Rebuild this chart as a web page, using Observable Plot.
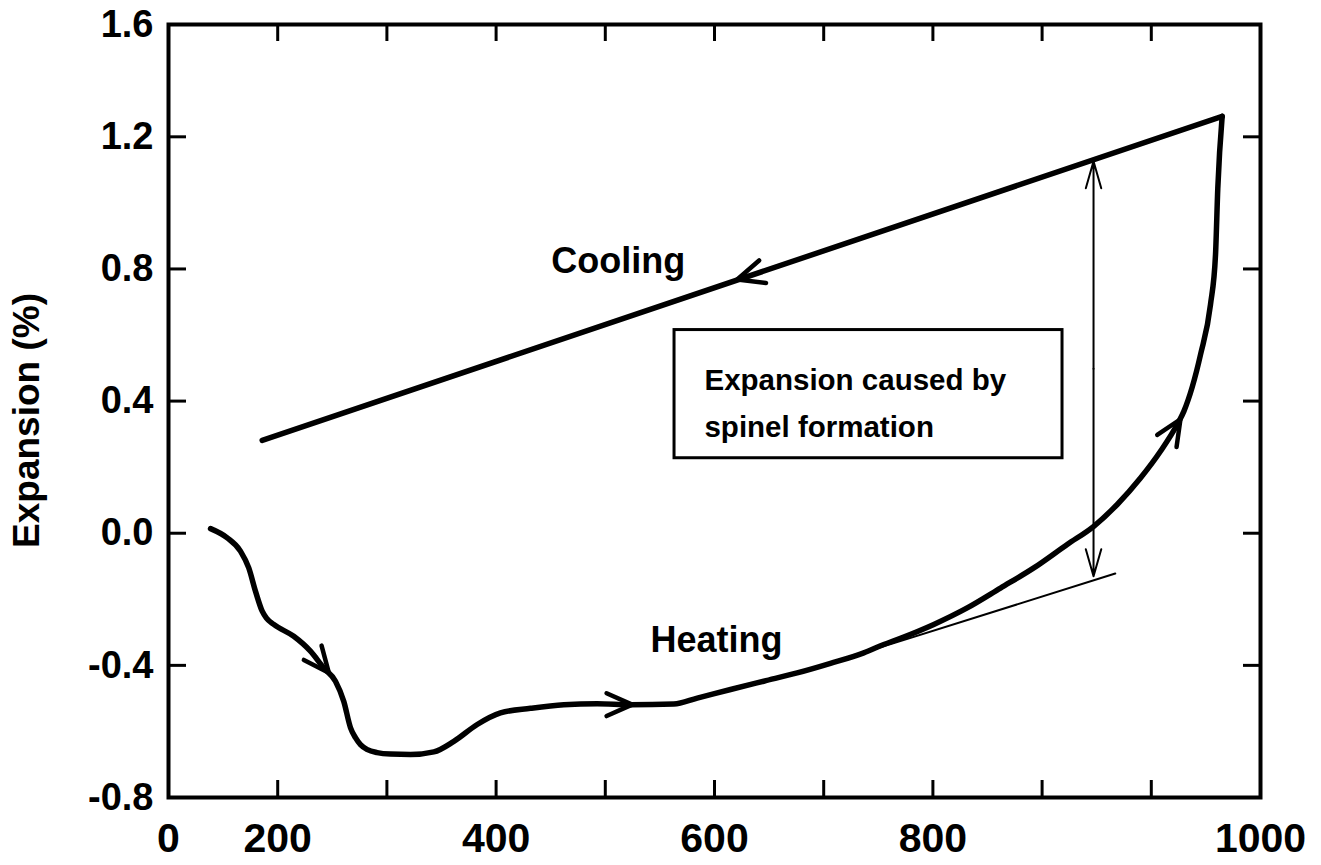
<!DOCTYPE html>
<html>
<head>
<meta charset="utf-8">
<script src="https://cdn.jsdelivr.net/npm/d3@7"></script>
<script src="https://cdn.jsdelivr.net/npm/@observablehq/plot@0.6"></script>
<style>
  html, body { margin: 0; padding: 0; background: #ffffff; }
  #chart svg { display: block; }
</style>
</head>
<body>
<div id="chart"></div>
<script>
// ---- Data ----
// Heating branch: temperature vs expansion (%)
const heatingTemp = [138.5, 153.8, 165.9, 173.5, 179.7, 185.8, 189.7, 196.4, 214.7, 230.0, 242.2,
  252.9, 260.5, 266.7, 271.2, 275.8, 282.2, 291.1, 303.3, 321.6, 343.0, 361.3, 382.7, 404.0,
  431.5, 462.0, 492.6, 523.1, 562.7, 584.2, 614.7, 645.1, 675.7, 706.2,
  736.7, 755.0, 770.3, 800.8, 831.4, 861.9, 892.4, 923.0, 947.3, 968.8,
  990.1, 1008.4, 1023.7, 1029.8, 1045.1, 1054.2, 1058.8, 1060.9, 1064.9];
const heatingExp = [0.014, -0.014, -0.054, -0.105, -0.176, -0.236, -0.257, -0.276, -0.312, -0.357, -0.408,
  -0.448, -0.509, -0.589, -0.619, -0.640, -0.655, -0.664, -0.6686, -0.670, -0.662, -0.630, -0.579, -0.544,
  -0.530, -0.519, -0.516, -0.519, -0.517, -0.499, -0.473, -0.448, -0.423, -0.394,
  -0.362, -0.337, -0.318, -0.276, -0.226, -0.166, -0.105, -0.034, 0.021, 0.087,
  0.167, 0.248, 0.329, 0.369, 0.541, 0.692, 0.843, 1.045, 1.262];

// Cooling branch (straight line)
const coolingTemp = [1064.9, 185.8];
const coolingExp = [1.262, 0.281];

// Tangent (extrapolated thermal expansion) line
const tangentTemp = [738, 967];
const tangentExp = [-0.360, -0.122];

// Direction arrows on the curves: position and heading (degrees clockwise from up)
const heatArrowTemp = [246.8, 524.6, 1026.7];
const heatArrowExp = [-0.422, -0.519, 0.345];
const heatArrowHeading = [141, 90, 32];
const coolArrowTemp = [620.8];
const coolArrowExp = [0.768];
const coolArrowHeading = [253];

// Double-headed arrow: expansion caused by spinel formation
const spanTemp = 947.1;
const spanTop = 1.126;
const spanBottom = -0.130;

// Annotation box extent and texts
const boxTemp = [563.4, 918.7];
const boxExp = [0.227, 0.615];
const boxText = "Expansion caused by\nspinel formation";
const boxTextAt = [590.8, 0.5377];
const branchLabels = ["Cooling", "Heating"];
const branchLabelTemp = [450.5, 541.4];
const branchLabelExp = [0.823, -0.3246];

// Axes
const xDomain = [100, 1100];
const yDomain = [-0.8, 1.54];
const xLabelValues = [100, 200, 400, 600, 800, 1100];
const xLabelTexts = ["0", "200", "400", "600", "800", "1000"];
const xMinorTicks = [200, 300, 400, 500, 600, 700, 800, 900, 1000];
const yLabelValues = [-0.8, -0.4, 0, 0.4, 0.8, 1.2, 1.54];
const yLabelTexts = ["-0.8", "-0.4", "0.0", "0.4", "0.8", "1.2", "1.6"];
const yMinorTicks = [-0.4, 0, 0.4, 0.8, 1.2];
const yTitle = "Expansion (%)";

// ---- Build tables ----
const heating = heatingTemp.map((t, i) => ({t, e: heatingExp[i]}));
const cooling = coolingTemp.map((t, i) => ({t, e: coolingExp[i]}));
const tangent = tangentTemp.map((t, i) => ({t, e: tangentExp[i]}));
const heatArrows = heatArrowTemp.map((t, i) => ({t, e: heatArrowExp[i], r: heatArrowHeading[i]}));
const coolArrows = coolArrowTemp.map((t, i) => ({t, e: coolArrowExp[i], r: coolArrowHeading[i]}));
const mid = (spanTop + spanBottom) / 2;
const spans = [{t: spanTemp, e1: mid, e2: spanTop}, {t: spanTemp, e1: mid, e2: spanBottom}];
const labels = branchLabels.map((s, i) => ({s, t: branchLabelTemp[i], e: branchLabelExp[i]}));
const xLabelMap = new Map(xLabelValues.map((v, i) => [v, xLabelTexts[i]]));
const yLabelMap = new Map(yLabelValues.map((v, i) => [v, yLabelTexts[i]]));

const FONT = "'Liberation Sans', Arial, Helvetica, sans-serif";

// chevron arrow head (open "V"), tip at the anchor point
function chevron(halfDeg) {
  const a = halfDeg * Math.PI / 180;
  return {
    draw(context, l) {
      const sx = l * Math.sin(a), sy = l * Math.cos(a);
      context.moveTo(-sx, sy);
      context.lineTo(0, 0);
      context.lineTo(sx, sy);
    }
  };
}

const W = 1321, H = 865;
const mL = 168, mR = 61, mT = 24, mB = 68;
const frameW = W - mL - mR, frameH = H - mT - mB;
const tickLen = 17;

const chart = Plot.plot({
  width: W,
  height: H,
  marginLeft: mL,
  marginRight: mR,
  marginTop: mT,
  marginBottom: mB,
  style: {fontFamily: FONT, background: "#ffffff", color: "#000"},
  x: {domain: xDomain},
  y: {domain: yDomain},
  marks: [
    // inward ticks on all four sides
    Plot.tickX(xMinorTicks, {x: d => d, insetTop: frameH - tickLen, strokeWidth: 3, stroke: "#000"}),
    Plot.tickX(xMinorTicks, {x: d => d, insetBottom: frameH - tickLen, strokeWidth: 3, stroke: "#000"}),
    Plot.tickY(yMinorTicks, {y: d => d, insetRight: frameW - tickLen - 1, strokeWidth: 3, stroke: "#000"}),
    Plot.tickY(yMinorTicks, {y: d => d, insetLeft: frameW - tickLen, strokeWidth: 3, stroke: "#000"}),
    Plot.frame({stroke: "#000", strokeWidth: 4}),

    // tangent line & span arrow (thin)
    Plot.line(tangent, {x: "t", y: "e", stroke: "#000", strokeWidth: 2}),
    Plot.arrow(spans, {x1: "t", y1: "e1", x2: "t", y2: "e2", stroke: "#000", strokeWidth: 2,
      headAngle: 32, headLength: 21}),

    // curves
    Plot.line(heating, {x: "t", y: "e", curve: "monotone-x", stroke: "#000", strokeWidth: 5.5,
      strokeLinejoin: "round", strokeLinecap: "round"}),
    Plot.line(cooling, {x: "t", y: "e", stroke: "#000", strokeWidth: 5.5, strokeLinecap: "round"}),

    // direction arrows
    Plot.vector(heatArrows, {x: "t", y: "e", rotate: "r", length: 28, anchor: "start",
      shape: chevron(24), stroke: "#000", strokeWidth: 4.5}),
    Plot.vector(coolArrows, {x: "t", y: "e", rotate: "r", length: 29, anchor: "start",
      shape: chevron(24), stroke: "#000", strokeWidth: 4.5}),

    // annotation box
    Plot.rect([0], {x1: () => boxTemp[0], x2: () => boxTemp[1], y1: () => boxExp[0], y2: () => boxExp[1],
      fill: "none", stroke: "#000", strokeWidth: 3}),
    Plot.text([boxText], {x: () => boxTextAt[0], y: () => boxTextAt[1], text: d => d,
      textAnchor: "start", lineAnchor: "top", lineHeight: 1.62, fontSize: 29.5, fontWeight: "bold", fill: "#000"}),

    // branch labels
    Plot.text(labels, {x: "t", y: "e", text: "s", textAnchor: "start", lineAnchor: "middle",
      fontSize: 36, fontWeight: "bold", fill: "#000"}),

    // axes tick labels
    Plot.axisX(xLabelValues, {tickSize: 0, tickPadding: 25, tickFormat: d => xLabelMap.get(d),
      fontSize: 41, fontWeight: "bold", label: null, fill: "#000"}),
    Plot.axisY(yLabelValues, {tickSize: 0, tickPadding: 15, tickFormat: d => yLabelMap.get(d),
      fontSize: 38, fontWeight: "bold", label: null, fill: "#000"}),

    // y title
    Plot.text([yTitle], {frameAnchor: "left", dx: -141, dy: 9.5, rotate: -90, text: d => d,
      textAnchor: "middle", lineAnchor: "middle",
      fontSize: 37, fontWeight: "bold", fill: "#000"})
  ]
});

document.getElementById("chart").appendChild(chart);
</script>
</body>
</html>
